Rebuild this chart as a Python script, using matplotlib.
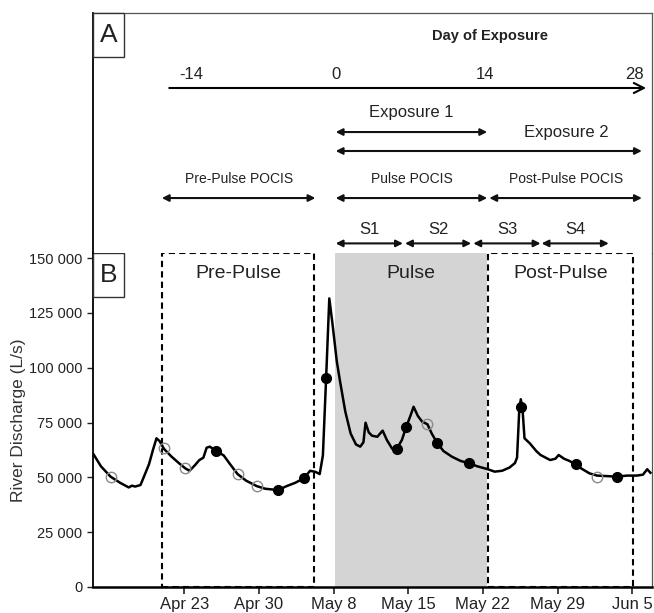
import matplotlib.pyplot as plt
from matplotlib.patches import Rectangle
from matplotlib.ticker import FuncFormatter

plt.rcParams['font.family'] = ['Liberation Sans', 'DejaVu Sans']

# River discharge, x = days after Apr 23
day = [-8.5, -7.8, -6.9, -6.0, -5.2, -4.9, -4.6, -4.1, -3.8, -3.3, -2.9, -2.6, -2.3, -1.9,
       -1.2, -0.5, 0.1, 0.5, 1.0, 1.4, 1.8, 2.1, 2.4, 3.0, 3.7, 4.3, 5.0, 5.8, 6.8, 7.6,
       8.8, 9.6, 10.4, 11.2, 11.8, 12.3, 12.7, 13.0, 13.3, 13.6, 13.9, 14.3, 14.6, 15.1,
       15.6, 16.1, 16.5, 16.8, 17.0, 17.3, 17.6, 18.1, 18.6, 19.0, 19.5, 19.9, 20.4, 20.8,
       21.2, 21.5, 21.9, 22.3, 22.8, 23.2, 23.7, 24.3, 25.1, 25.9, 26.7, 27.5, 28.4, 29.1,
       29.8, 30.5, 31.0, 31.2, 31.4, 31.55, 31.7, 31.9, 32.4, 33.0, 33.4, 34.3, 34.8, 35.1,
       35.6, 36.1, 36.7, 37.3, 38.0, 38.7, 39.5, 40.6, 41.5, 42.4, 43.0, 43.4, 43.7]
discharge = [60500, 55000, 50300, 47500, 45400, 46200, 45800, 46500, 50000, 56000, 63000,
             67800, 66500, 63000, 59500, 56500, 54100, 53000, 55500, 57800, 59000, 63500,
             64000, 62000, 60000, 56000, 51500, 48500, 46000, 44800, 44200, 46000, 47500,
             49500, 53000, 52500, 51500, 60000, 95000, 131600, 120000, 103000, 94000, 80000,
             70000, 65000, 64000, 66000, 74900, 70500, 69000, 68500, 71300, 67000, 63000,
             62800, 67000, 72800, 78000, 82200, 78000, 75400, 74200, 70000, 65800, 62000,
             59400, 57500, 56400, 55000, 53800, 52600, 53000, 54500, 56500, 59000, 80000,
             85600, 82000, 67800, 65500, 62000, 60200, 57900, 58500, 60200, 58500, 57500,
             55900, 53800, 51800, 50800, 50600, 50300, 50800, 50800, 51200, 53700, 52100]

# sampling points
open_day = [-6.9, -1.9, 0.1, 5.0, 6.8, 22.8, 38.7]
open_q = [50300, 63200, 54100, 51500, 46000, 74200, 50300]
filled_day = [3.0, 8.8, 11.2, 13.3, 19.9, 20.8, 23.7, 26.7, 31.6, 36.7, 40.6]
filled_q = [62000, 44200, 49500, 95100, 62800, 72800, 65800, 56400, 82200, 55900, 50300]

tick_days = [0, 7, 14, 21, 28, 35, 42]
tick_labels = ['Apr 23', 'Apr 30', 'May 8', 'May 15', 'May 22', 'May 29', 'Jun 5']

region_names = ['Pre-Pulse', 'Pulse', 'Post-Pulse']
region_start = [-2.05, 14.15, 28.5]
region_end = [12.2, 28.4, 42.1]

# panel A, in day of exposure
exp_offset = 14.2
exp_ticks = [-14, 0, 14, 28]
intervals = [
    ('Exposure 1', 0, 14.2, 0.504, 0.587, 12, 'center'),
    ('Exposure 2', 0, 28.7, 0.425, 0.504, 12, 'right'),
    ('Pre-Pulse POCIS', -16.3, -1.9, 0.229, 0.308, 10, 'center'),
    ('Pulse POCIS', 0, 14.2, 0.229, 0.308, 10, 'center'),
    ('Post-Pulse POCIS', 14.4, 28.7, 0.229, 0.308, 10, 'center'),
    ('S1', 0, 6.3, 0.04, 0.10, 12, 'center'),
    ('S2', 6.5, 12.7, 0.04, 0.10, 12, 'center'),
    ('S3', 12.9, 19.2, 0.04, 0.10, 12, 'center'),
    ('S4', 19.3, 25.6, 0.04, 0.10, 12, 'center'),
]

W, H = 654, 613
fig = plt.figure(figsize=(W / 100, H / 100), dpi=100)
axB = fig.add_axes([93 / W, 26 / H, 559 / W, 334 / H])
axA = fig.add_axes([93 / W, 360 / H, 559 / W, 240 / H], sharex=axB)

txt = '#222222'

# ---- panel B
axB.set_xlim(-8.55, 43.85)
axB.set_ylim(0, 152300)
axB.axvspan(region_start[1], region_end[1], color='#d4d4d4', lw=0, zorder=0)
for i in [0, 2]:
    axB.add_patch(Rectangle((region_start[i], 0), region_end[i] - region_start[i], 152300,
                            fill=False, ls=(0, (3, 2)), lw=1.5, ec='black', clip_on=False, zorder=1))
for name, s, e in zip(region_names, region_start, region_end):
    axB.text((s + e) / 2, 0.94, name, transform=axB.get_xaxis_transform(),
             ha='center', va='center', fontsize=14, color=txt)

axB.plot(day, discharge, color='black', lw=1.8, zorder=3)
axB.plot(open_day, open_q, 'o', ms=7.5, mfc='none', mec='#8a8a8a', mew=1, zorder=4)
axB.plot(filled_day, filled_q, 'o', ms=7, color='black', zorder=4)

axB.set_yticks(range(0, 150001, 25000))
axB.yaxis.set_major_formatter(FuncFormatter(lambda v, p: '{:,}'.format(int(v)).replace(',', ' ')))
axB.set_xticks(tick_days)
axB.set_xticklabels(tick_labels)
axB.tick_params(axis='y', labelsize=10.5, colors=txt, length=4, width=1, direction='out')
axB.tick_params(axis='x', labelsize=12, colors=txt, length=5, width=1.2, direction='out', pad=2)
axB.set_ylabel('River Discharge (L/s)', fontsize=12.5, color='#333333', labelpad=2)
axB.spines['top'].set_visible(False)
axB.spines['left'].set_linewidth(1.3)
axB.spines['bottom'].set_linewidth(1.8)
axB.spines['right'].set_color('#555555')
axB.spines['right'].set_linewidth(0.9)

# panel labels in boxes
for ax, letter, hpx in [(axA, 'A', 240), (axB, 'B', 334)]:
    bw, bh = 31 / 559, 44 / hpx
    ax.add_patch(Rectangle((0, 1 - bh), bw, bh, transform=ax.transAxes, fc='white',
                           ec='#333333', lw=1, zorder=5, clip_on=False))
    ax.text(bw / 2, 1 - bh / 2, letter, transform=ax.transAxes, ha='center', va='center',
            fontsize=19, color=txt, zorder=6)

# ---- panel A
axA.set_ylim(0, 1)
axA.tick_params(left=False, bottom=False, labelleft=False, labelbottom=False)
axA.spines['bottom'].set_visible(False)
axA.spines['left'].set_linewidth(1.3)
for s in ['top', 'right']:
    axA.spines[s].set_color('#555555')
    axA.spines[s].set_linewidth(0.9)

axA.text(28.7, 0.904, 'Day of Exposure', ha='center', va='center', fontsize=10.5,
         fontweight='bold', color=txt)
axA.annotate('', xy=(29.1 + exp_offset, 0.6875), xytext=(-15.6 + exp_offset, 0.6875),
             arrowprops=dict(arrowstyle='->', lw=1.5, color='black', mutation_scale=18,
                             shrinkA=0, shrinkB=0))
for t in exp_ticks:
    axA.text(t + exp_offset + (0.5 if t < 0 else 0), 0.745, str(t), ha='center', va='center',
             fontsize=12, color=txt)

for label, x0, x1, y_arrow, y_text, fs, where in intervals:
    axA.annotate('', xy=(x1 + exp_offset, y_arrow), xytext=(x0 + exp_offset, y_arrow),
                 arrowprops=dict(arrowstyle='<|-|>', lw=1.5, color='#111111', mutation_scale=10,
                                 shrinkA=0, shrinkB=0))
    if where == 'right':
        axA.text(35.85, y_text, label, ha='center', va='center', fontsize=fs, color=txt)
    else:
        axA.text((x0 + x1) / 2 + exp_offset, y_text, label, ha='center', va='center',
                 fontsize=fs, color=txt)

fig.savefig('out.png', dpi=100)
